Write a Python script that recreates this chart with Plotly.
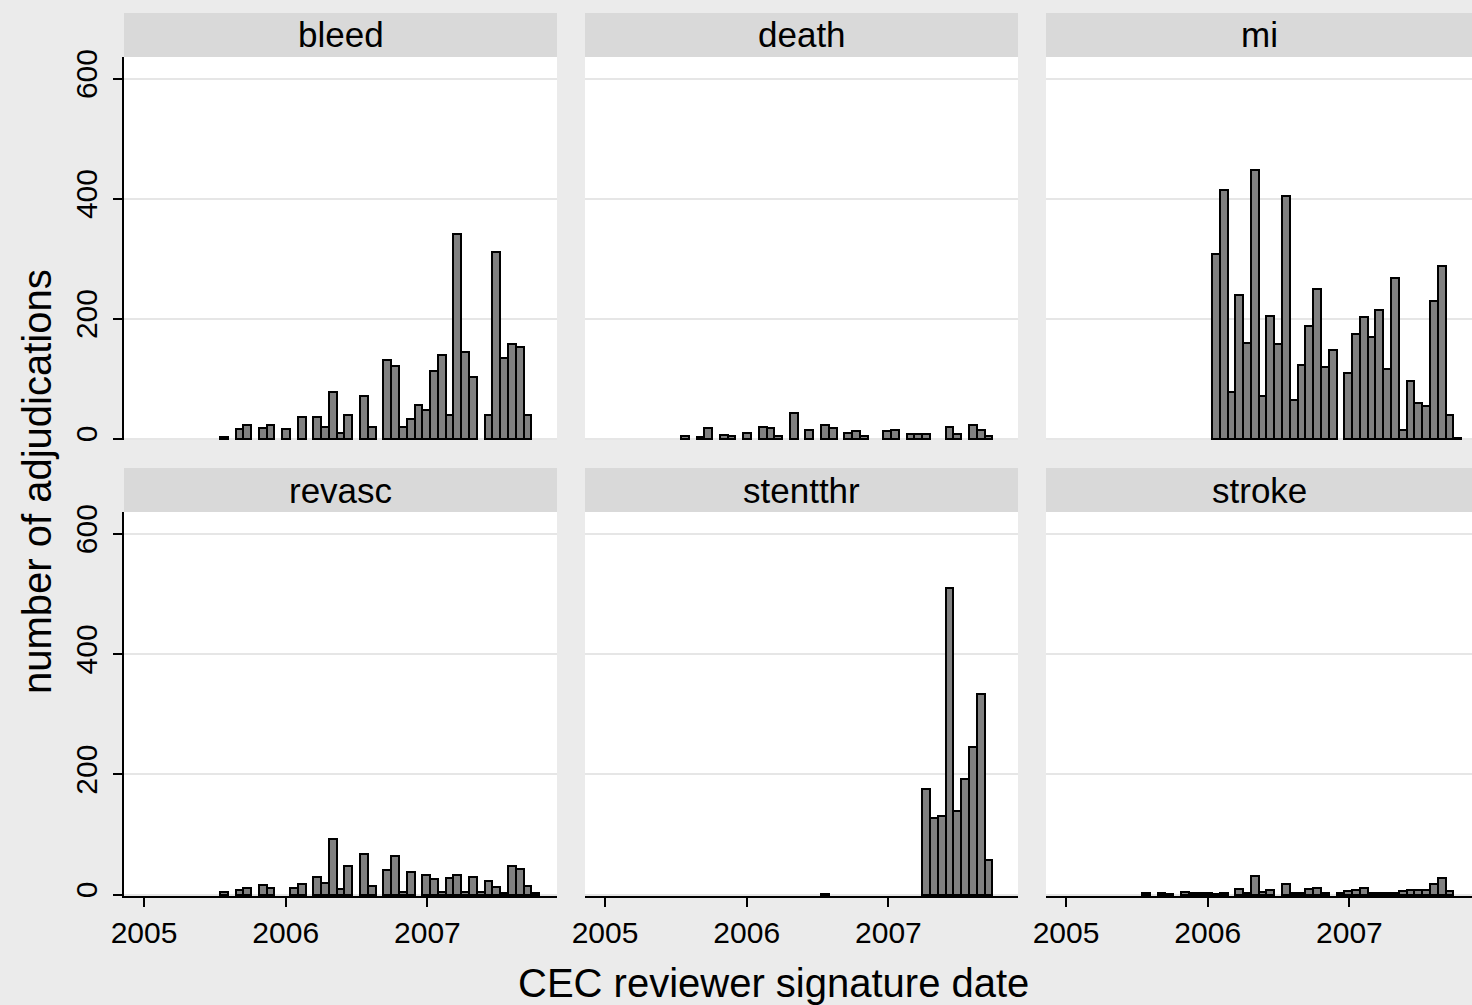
import plotly.graph_objects as go

# Histogram bins shared by all panels (decimal years)
BIN_START = 2005.536
BIN_WIDTH = 0.05493

panel_names = ["bleed", "death", "mi", "revasc", "stentthr", "stroke"]

bleed = [2, 0, 16, 22, 0, 18, 22, 0, 16, 0,
         36, 0, 36, 20, 78, 10, 39, 0, 71, 20,
         0, 131, 121, 19, 32, 56, 47, 112, 139, 40,
         341, 145, 103, 0, 40, 311, 135, 158, 152, 40,
         0]
death = [4, 0, 2, 17, 0, 6, 5, 0, 10, 0,
         20, 18, 5, 0, 42, 0, 14, 0, 22, 17,
         0, 10, 13, 4, 0, 0, 12, 14, 0, 8,
         8, 7, 0, 0, 20, 8, 0, 22, 15, 5,
         0]
mi = [0, 0, 0, 0, 0, 0, 0, 0, 0, 307,
      414, 77, 239, 159, 448, 71, 204, 157, 404, 64,
      122, 187, 250, 119, 147, 0, 110, 175, 203, 169,
      214, 116, 268, 15, 96, 59, 55, 229, 287, 39,
      1]
revasc = [4, 0, 7, 10, 0, 15, 10, 0, 0, 10,
          17, 0, 29, 19, 93, 9, 47, 0, 67, 14,
          0, 40, 64, 4, 38, 0, 32, 26, 4, 27,
          32, 4, 29, 4, 23, 13, 2, 47, 42, 14,
          2]
stentthr = [0, 0, 0, 0, 0, 0, 0, 0, 0, 0,
            0, 0, 0, 0, 0, 0, 0, 0, 1, 0,
            0, 0, 0, 0, 0, 0, 0, 0, 0, 0,
            0, 176, 128, 131, 509, 139, 192, 245, 334, 57,
            0]
stroke = [2, 0, 2, 1, 0, 4, 3, 2, 2, 1,
          2, 0, 9, 3, 30, 4, 7, 0, 17, 3,
          2, 9, 11, 3, 0, 2, 6, 8, 10, 3,
          2, 2, 3, 5, 7, 7, 8, 18, 28, 5,
          0]

series = [bleed, death, mi, revasc, stentthr, stroke]

year_ticks = [2005, 2006, 2007]
year_labels = ["2005", "2006", "2007"]
count_ticks = [0, 200, 400, 600]
count_labels = ["0", "200", "400", "600"]

# Page geometry (pixels)
W, H = 1472, 1005
col_px = [(124, 557), (585, 1018), (1046, 1472)]
row_px = [(57, 440), (512, 896)]
strip_px = [(13, 57), (468, 512)]
PX_PER_YEAR = 141.7
X_LEFT = 2005 - 20 / PX_PER_YEAR

BG = "#EBEBEB"
STRIP = "#D9D9D9"
GRID = "#E6E6E6"
FONT = "Liberation Sans, Arial, sans-serif"

centers = [BIN_START + BIN_WIDTH * (i + 0.5) for i in range(len(bleed))]

fig = go.Figure()
layout = dict(
    template="none",
    width=W, height=H,
    margin=dict(l=0, r=0, t=0, b=0, autoexpand=False),
    paper_bgcolor=BG, plot_bgcolor="white",
    showlegend=False, bargap=0,
    font=dict(family=FONT, color="black"),
)
shapes, annotations = [], []

for idx, (name, vals) in enumerate(zip(panel_names, series)):
    r, c = divmod(idx, 3)
    n = idx + 1
    xa, ya = ("x", "y") if n == 1 else (f"x{n}", f"y{n}")
    x0, x1 = col_px[c]
    y0, y1 = row_px[r]
    fig.add_trace(go.Bar(
        x=centers,
        y=[v if v > 0 else None for v in vals],
        width=BIN_WIDTH,
        marker=dict(color="#808080", line=dict(color="black", width=2)),
        xaxis=xa, yaxis=ya, hoverinfo="x+y",
    ))
    bottom = r == 1
    left = c == 0
    layout[f"xaxis{'' if n == 1 else n}"] = dict(
        domain=[x0 / W, x1 / W],
        range=[X_LEFT, X_LEFT + (x1 - x0) / PX_PER_YEAR],
        anchor=ya, automargin=False,
        showgrid=False, zeroline=False,
        showline=bottom, linecolor="black", linewidth=1.5,
        ticks="outside" if bottom else "", ticklen=9, tickwidth=1.5, tickcolor="black",
        tickvals=year_ticks, ticktext=year_labels,
        showticklabels=bottom,
        tickfont=dict(size=30, family=FONT, color="black"),
    )
    layout[f"yaxis{'' if n == 1 else n}"] = dict(
        domain=[1 - y1 / H, 1 - y0 / H],
        range=[-2.5, 636],
        anchor=xa, automargin=False,
        showgrid=True, gridcolor=GRID, gridwidth=2, zeroline=False,
        showline=left, linecolor="black", linewidth=1.5,
        ticks="outside" if left else "", ticklen=9, tickwidth=1.5, tickcolor="black",
        tickvals=count_ticks, ticktext=count_labels,
        showticklabels=left, tickangle=-90, ticklabelstandoff=4,
        tickfont=dict(size=30, family=FONT, color="black"),
    )
    s0, s1 = strip_px[r]
    shapes.append(dict(type="rect", xref="paper", yref="paper",
                       x0=x0 / W, x1=x1 / W, y0=1 - s1 / H, y1=1 - s0 / H,
                       fillcolor=STRIP, line=dict(width=0), layer="below"))
    annotations.append(dict(text=name, xref="paper", yref="paper",
                            x=(x0 + x1) / 2 / W, y=1 - (s0 + s1) / 2 / H,
                            xanchor="center", yanchor="middle", showarrow=False,
                            font=dict(size=35, family=FONT, color="black")))

annotations.append(dict(text="number of adjudications", xref="paper", yref="paper",
                        x=37 / W, y=1 - 482 / H, textangle=-90,
                        xanchor="center", yanchor="middle", showarrow=False,
                        font=dict(size=40, family=FONT, color="black")))
annotations.append(dict(text="CEC reviewer signature date", xref="paper", yref="paper",
                        x=773 / W, y=1 - 983 / H,
                        xanchor="center", yanchor="middle", showarrow=False,
                        font=dict(size=40, family=FONT, color="black")))

layout["shapes"] = shapes
layout["annotations"] = annotations
fig.update_layout(**layout)
fig.write_html("out.html")
